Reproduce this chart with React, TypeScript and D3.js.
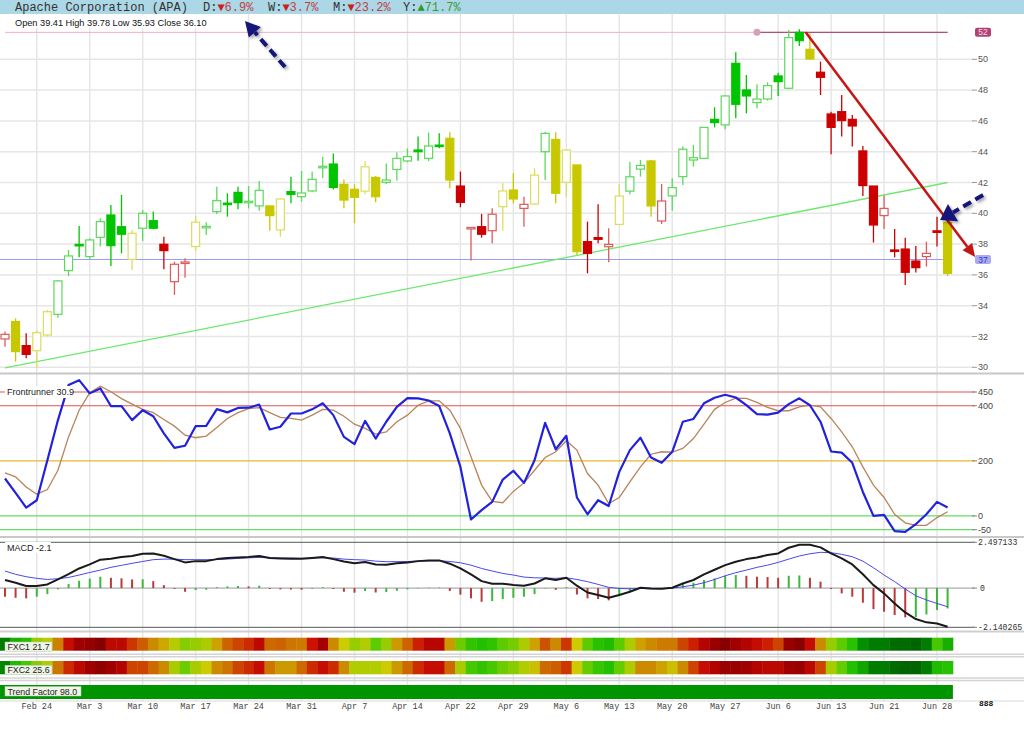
import React from "react";
import * as d3 from "d3";

// ---------- DATA ----------
const TITLE = "Apache Corporation (APA)";
const HEADER_CHANGES = [
  { label: "D:", up: false, value: "6.9%" },
  { label: "W:", up: false, value: "3.7%" },
  { label: "M:", up: false, value: "23.2%" },
  { label: "Y:", up: true, value: "71.7%" },
];

const OPEN = [31.84,32.97,31.41,31.08,32.10,33.44,36.28,37.98,37.19,38.44,39.89,39.13,37.01,39.03,39.52,37.99,35.56,36.80,37.84,39.10,40.11,40.66,41.36,40.74,40.48,40.48,38.92,41.41,41.08,41.45,43.00,43.20,41.88,41.56,41.44,42.33,42.01,42.85,43.40,44.11,43.57,44.43,44.87,41.77,39.05,39.13,38.87,40.43,41.51,40.32,40.60,44.00,44.80,42.01,43.14,38.16,38.42,37.83,39.28,41.44,42.87,43.40,39.50,41.13,42.38,43.46,43.57,46.10,45.74,49.74,48.01,47.19,47.42,48.92,48.12,51.75,50.65,49.16,46.45,46.60,46.10,44.05,41.77,39.85,37.62,37.68,36.90,37.19,38.86,39.41];
const HIGH = [32.32,33.18,32.21,32.40,33.72,35.67,37.62,39.18,38.38,39.68,40.54,41.19,38.92,40.22,40.11,38.48,36.86,37.08,39.83,39.42,41.73,41.30,41.73,41.77,42.10,40.48,40.97,42.38,42.75,42.71,43.68,43.89,42.20,41.88,43.39,42.42,43.24,43.96,44.22,44.98,45.24,45.19,45.26,42.71,39.10,39.96,40.33,41.95,42.60,41.08,42.92,45.30,45.26,44.15,43.14,39.46,40.58,39.03,41.90,43.35,43.46,43.46,41.90,42.27,44.33,44.44,45.58,46.88,47.68,50.45,48.98,48.38,48.51,49.13,51.90,51.95,51.69,49.85,46.60,47.68,46.39,44.37,41.77,41.15,38.98,38.42,37.88,38.16,39.78,39.78];
const LOW = [31.34,30.37,30.58,29.94,32.00,33.22,35.93,37.14,37.01,37.84,36.58,37.40,36.32,38.20,38.96,36.36,34.70,35.82,37.55,38.59,39.96,39.78,40.26,40.32,40.17,38.87,38.48,40.65,40.76,41.36,42.27,41.55,40.32,39.35,41.23,40.71,41.91,42.12,43.31,43.42,43.39,44.22,41.62,40.39,36.93,38.42,38.05,38.87,40.65,39.13,40.54,42.16,40.65,41.08,37.29,36.10,38.05,36.82,39.24,41.23,42.38,39.78,39.31,40.17,41.84,43.03,43.51,45.58,45.45,46.17,46.49,46.82,47.32,47.62,48.05,50.87,49.96,47.68,43.83,44.98,44.33,41.13,38.10,38.98,37.14,35.35,36.15,36.54,37.84,35.93];
const CLOSE = [32.14,31.02,30.84,32.25,33.61,35.61,37.23,37.90,38.27,39.46,37.90,38.64,38.70,40.00,39.03,37.58,36.69,36.84,39.42,39.15,40.82,40.60,40.69,40.78,41.49,39.85,40.93,41.23,41.32,42.21,43.05,41.68,40.86,41.04,43.02,41.08,42.16,43.57,43.68,44.00,44.37,44.39,42.16,40.71,39.08,38.64,39.94,41.45,40.93,40.58,42.48,45.19,41.30,44.11,37.51,37.40,38.31,37.98,41.12,42.37,43.11,40.48,40.80,41.67,44.16,43.61,45.58,45.89,47.62,47.08,47.62,47.42,48.29,48.55,51.41,51.21,50.02,48.83,45.58,46.02,45.67,41.80,39.24,40.32,37.55,36.17,36.47,37.40,38.78,36.10];
const CANDLE_TONE = ("ryryyggggg" + "ggyggrrryg" + "gggggyyggg" + "ggyyyygggg" + "ggyrrrryyr" + "ygyyyrrryg" + "gyrggggggg" + "ggggggyrrr" + "rrrrrrrrry").split("");

const FR_FAST = [136,84,30,57,202,348,475,493,445,463,399,399,348,384,362,300,247,255,326,327,388,376,392,393,404,314,324,372,372,387,409,366,287,261,345,281,342,396,428,427,419,399,300,178,-13,21,51,132,164,120,202,338,242,291,67,6,57,36,160,239,284,212,193,233,342,352,409,429,440,430,402,370,368,375,406,427,402,342,234,230,193,87,0,4,-55,-58,-30,6,51,30.9];
const FR_SLOW = [156,142,105,79,96,166,287,384,447,471,451,426,406,387,375,350,326,293,284,290,321,354,375,390,393,375,358,354,348,366,387,384,362,333,318,297,305,342,366,402,418,418,384,318,215,112,53,48,89,120,166,212,233,273,239,154,112,45,67,124,178,224,233,232,245,281,333,387,412,428,427,412,394,382,382,396,402,396,354,305,251,178,112,67,6,-25,-34,-34,-6,15];
const FR_LEVELS = [450, 400, 200, 0, -50];

const MACD_LINE = [0.44,0.29,0.11,0.11,0.2,0.47,0.76,1.07,1.29,1.55,1.6,1.69,1.75,1.87,1.89,1.76,1.58,1.4,1.47,1.47,1.58,1.64,1.67,1.69,1.75,1.64,1.62,1.6,1.6,1.64,1.69,1.58,1.45,1.36,1.42,1.29,1.27,1.36,1.4,1.47,1.51,1.51,1.33,1.07,0.75,0.38,0.24,0.24,0.17,0.13,0.25,0.53,0.44,0.56,0.13,-0.24,-0.38,-0.53,-0.38,-0.2,0.02,-0.02,-0.04,0.02,0.25,0.44,0.75,1.0,1.25,1.44,1.58,1.67,1.8,1.89,2.2,2.36,2.36,2.22,1.89,1.62,1.29,0.75,0.16,-0.29,-0.84,-1.33,-1.69,-1.87,-1.93,-2.11];
const MACD_SIGNAL = [0.93,0.75,0.62,0.53,0.47,0.51,0.58,0.71,0.85,0.98,1.13,1.24,1.35,1.45,1.55,1.58,1.58,1.55,1.55,1.55,1.56,1.58,1.62,1.65,1.67,1.65,1.64,1.64,1.62,1.64,1.65,1.64,1.58,1.55,1.53,1.47,1.44,1.44,1.45,1.47,1.49,1.49,1.45,1.38,1.25,1.07,0.93,0.8,0.71,0.6,0.56,0.55,0.53,0.56,0.47,0.35,0.2,0.04,-0.02,-0.04,-0.02,-0.04,-0.04,0,0.07,0.16,0.29,0.47,0.67,0.84,0.98,1.13,1.25,1.4,1.58,1.75,1.87,1.95,1.93,1.84,1.71,1.47,1.11,0.71,0.35,-0.05,-0.42,-0.65,-0.84,-1.02];
const MACD_HIST = [-0.47,-0.53,-0.56,-0.47,-0.33,-0.07,0.22,0.4,0.51,0.62,0.56,0.53,0.47,0.48,0.38,0.16,-0.05,-0.2,-0.11,-0.09,0.05,0.09,0.11,0.09,0.13,-0.05,-0.07,-0.08,-0.09,-0.04,0.05,-0.05,-0.2,-0.25,-0.16,-0.24,-0.22,-0.15,-0.07,-0.02,0.02,0.03,-0.16,-0.36,-0.56,-0.75,-0.71,-0.6,-0.53,-0.47,-0.33,-0.02,-0.1,0.05,-0.35,-0.56,-0.6,-0.67,-0.44,-0.2,0.0,0.01,0.0,0.02,0.22,0.29,0.44,0.53,0.67,0.71,0.67,0.62,0.6,0.56,0.67,0.69,0.56,0.35,-0.05,-0.29,-0.47,-0.8,-1.15,-1.29,-1.47,-1.6,-1.58,-1.44,-1.2,-1.11];
const MACD_LEVELS = [2.497133, 0, -2.140265];
const MACD_LEVEL_LABELS = ["2.497133", "0", "-2.140265"];

const FXC1 = [12,22,25,40,46,62,82,90,93,97,84,84,74,68,60,55,45,38,40,43,56,67,72,76,84,66,67,64,63,80,89,60,50,40,44,33,40,57,67,78,85,85,57,35,27,25,27,33,36,43,56,70,60,74,50,33,26,24,33,43,56,60,63,63,72,78,86,92,96,90,86,82,78,72,92,96,82,60,40,33,26,16,12,12,8,8,5,12,30,21.7];
const FXC2 = [14,24,30,38,44,64,76,84,90,94,90,86,72,72,66,60,42,35,42,50,60,64,72,76,82,64,57,57,66,76,82,76,60,44,44,44,50,57,66,76,82,82,66,42,30,27,30,35,38,44,52,66,68,74,50,34,28,25,34,43,60,60,56,52,60,72,82,86,92,92,90,86,84,84,90,92,84,72,42,34,25,20,12,12,8,5,5,12,24,25.6];
const TREND_FACTOR = 98.0;

const PRICE_TICKS = [30, 32, 34, 36, 38, 40, 42, 44, 46, 48, 50];
const DATE_LABELS = ["Feb 24","Mar 3","Mar 10","Mar 17","Mar 24","Mar 31","Apr 7","Apr 14","Apr 22","Apr 29","May 6","May 13","May 20","May 27","Jun 6","Jun 13","Jun 21","Jun 28"];
const DATE_INDEX = [3,8,13,18,23,28,33,38,43,48,53,58,63,68,73,78,83,88];

const LEVEL_HIGH = 51.75; const LEVEL_HIGH_LABEL = "52"; const LEVEL_HIGH_DOT = 71;
const LEVEL_LOW = 37.0; const LEVEL_LOW_LABEL = "37";
const TRENDLINE = [[0, 29.96], [89, 42.0]];
const RED_ARROW = [[75.6, 51.75], [91.6, 37.16]];
const BLUE_ARROW_1 = [[26.44, 49.5], [22.66, 52.49]];
const BLUE_ARROW_2 = [[92.35, 41.19], [88.29, 39.56]];

// ---------- LAYOUT ----------
const W = 1024, H = 735;
const N = CLOSE.length;
const x = d3.scaleLinear().domain([0, N - 1]).range([5, 947.6]);
const step = x(1) - x(0);
const yP = d3.scaleLinear().domain([30, 50]).range([367.3, 59.3]);
const yF = d3.scaleLinear().domain([-50, 450]).range([529.7, 392]);
const yM = d3.scaleLinear().domain([-2.140265, 2.497133]).range([627.3, 542.3]);
const fxcColor = d3.scaleLinear<string>()
  .domain([0, 8, 15, 25, 33, 42, 50, 57, 65, 72, 80, 88, 95, 100])
  .range(["#005a00","#006c00","#008a00","#22c000","#5ccc00","#a8cc00","#cccc00","#cc9a00","#cc7000","#cc4400","#cc1100","#aa0000","#8c0000","#7a0000"]);

const TONES: Record<string, { fill: string; hollow: string }> = {
  g: { fill: "#00c400", hollow: "#5cd85c" },
  r: { fill: "#cc0000", hollow: "#dd5a5a" },
  y: { fill: "#c8c800", hollow: "#dcdc60" },
};

const SANS = "Arial, 'Liberation Sans', sans-serif";
const MONO = "'Liberation Mono', 'Courier New', monospace";
const AXIS_X = 978;

function arrow(from: number[], to: number[], len: number, half: number) {
  const x1 = x(from[0]), y1 = yP(from[1]), x2 = x(to[0]), y2 = yP(to[1]);
  const a = Math.atan2(y2 - y1, x2 - x1);
  const bx = x2 - len * Math.cos(a), by = y2 - len * Math.sin(a);
  const px = -Math.sin(a) * half, py = Math.cos(a) * half;
  return { x1, y1, bx, by, head: `${x2},${y2} ${bx + px},${by + py} ${bx - px},${by - py}` };
}

export default function App() {
  const idx = d3.range(N);
  const frFast = d3.line<number>().x((_, i) => x(i)).y((d) => yF(d))(FR_FAST) || "";
  const frSlow = d3.line<number>().x((_, i) => x(i)).y((d) => yF(d))(FR_SLOW) || "";
  const mLine = d3.line<number>().x((_, i) => x(i)).y((d) => yM(d))(MACD_LINE) || "";
  const mSig = d3.line<number>().x((_, i) => x(i)).y((d) => yM(d))(MACD_SIGNAL) || "";
  const bw = 8;
  const last = N - 1;
  const ra = arrow(RED_ARROW[0], RED_ARROW[1], 13, 6);
  const b1 = arrow(BLUE_ARROW_1[0], BLUE_ARROW_1[1], 15, 8);
  const b2 = arrow(BLUE_ARROW_2[0], BLUE_ARROW_2[1], 15, 10);
  const headerX = [203, 268, 333, 403];
  const stripX0 = x(0) - step / 2;
  const stripX1 = x(last) + step / 2;

  return (
    <div style={{ position: "absolute", left: 0, top: 0 }}>
      <svg width={W} height={H} style={{ display: "block", background: "#fff" }}>
        <defs>
          <filter id="shadow" x="-20%" y="-20%" width="140%" height="140%">
            <feDropShadow dx="2" dy="2" stdDeviation="1.5" floodColor="#000" floodOpacity="0.35" />
          </filter>
        </defs>
        <rect x={0} y={0} width={W} height={H} fill="#fff" />

        {/* vertical grid */}
        {DATE_INDEX.map((d) => (
          <line key={"vg" + d} x1={x(d)} x2={x(d)} y1={14} y2={701} stroke="#e6e6e6" strokeWidth={1.5} />
        ))}
        {/* price horizontal grid */}
        {PRICE_TICKS.map((t) => (
          <g key={"pt" + t}>
            <line x1={0} x2={973} y1={yP(t)} y2={yP(t)} stroke="#e6e6e6" strokeWidth={1.5} />
            <line x1={972} x2={977} y1={yP(t)} y2={yP(t)} stroke="#999" />
            <text x={AXIS_X} y={yP(t) + 3} fontSize={9} fontFamily={SANS} fill="#555">{t}</text>
          </g>
        ))}

        {/* header */}
        <rect x={0} y={0} width={W} height={14} fill="#acd7e6" />
        <text x={15} y={11} fontSize={12} fontFamily={MONO} fill="#333">{TITLE}</text>
        {HEADER_CHANGES.map((h, k) => (
          <text key={h.label} x={headerX[k]} y={11} fontSize={12} fontFamily={MONO} fill="#333">
            {h.label}
            <tspan fill={h.up ? "#2f9a2f" : "#cc2020"}>{h.up ? "▲" : "▼"}</tspan>
            <tspan fill={h.up ? "#3a9a3a" : "#c04040"}>{h.value}</tspan>
          </text>
        ))}
        <rect x={5} y={15} width={205} height={13} fill="#fff" />
        <text x={15} y={26} fontSize={9.2} fontFamily={SANS} fill="#111">
          {`Open ${OPEN[last].toFixed(2)}  High ${HIGH[last].toFixed(2)}  Low ${LOW[last].toFixed(2)}  Close ${CLOSE[last].toFixed(2)}`}
        </text>

        {/* level lines */}
        <line x1={x(0)} x2={x(last)} y1={yP(LEVEL_HIGH)} y2={yP(LEVEL_HIGH)} stroke="#f0b0c6" strokeWidth={1} />
        <line x1={x(LEVEL_HIGH_DOT)} x2={x(last)} y1={yP(LEVEL_HIGH)} y2={yP(LEVEL_HIGH)} stroke="#b0507a" strokeWidth={1.2} />
        <circle cx={x(LEVEL_HIGH_DOT)} cy={yP(LEVEL_HIGH)} r={3.5} fill="#d8a0b8" />
        <line x1={0} x2={x(last)} y1={yP(LEVEL_LOW)} y2={yP(LEVEL_LOW)} stroke="#9c9cf2" strokeWidth={1.2} />
        <rect x={975} y={yP(LEVEL_HIGH) - 4.5} width={16} height={9} rx={2} fill="#b04272" />
        <text x={983} y={yP(LEVEL_HIGH) + 3} fontSize={8.5} fontFamily={SANS} fill="#f8d8e8" textAnchor="middle">{LEVEL_HIGH_LABEL}</text>
        <rect x={975} y={yP(LEVEL_LOW) - 4.5} width={16} height={9} rx={2} fill="#aaaaf2" />
        <text x={983} y={yP(LEVEL_LOW) + 3} fontSize={8.5} fontFamily={SANS} fill="#3838c0" textAnchor="middle">{LEVEL_LOW_LABEL}</text>

        {/* trendline */}
        <line x1={x(TRENDLINE[0][0])} y1={yP(TRENDLINE[0][1])} x2={x(TRENDLINE[1][0])} y2={yP(TRENDLINE[1][1])} stroke="#6ee86e" strokeWidth={1.3} />

        {/* candles */}
        {idx.map((i) => {
          const o = OPEN[i], c = CLOSE[i];
          const tone = TONES[CANDLE_TONE[i]];
          const filled = c < o;
          const col = filled ? tone.fill : tone.hollow;
          const top = yP(Math.max(o, c));
          const h = Math.max(1.5, Math.abs(yP(o) - yP(c)));
          return (
            <g key={"c" + i}>
              <line x1={x(i)} x2={x(i)} y1={yP(HIGH[i])} y2={yP(LOW[i])} stroke={col} strokeWidth={1.3} />
              <rect x={x(i) - bw / 2} y={top} width={bw} height={h} fill={filled ? tone.fill : "#fff"} stroke={col} strokeWidth={1.2} />
            </g>
          );
        })}

        {/* red arrow */}
        <line x1={ra.x1} y1={ra.y1} x2={ra.bx} y2={ra.by} stroke="#c41414" strokeWidth={2.5} />
        <polygon points={ra.head} fill="#c41414" />
        {/* blue dashed arrows */}
        <g filter="url(#shadow)">
          <line x1={b1.x1} y1={b1.y1} x2={b1.bx} y2={b1.by} stroke="#16167a" strokeWidth={4} strokeDasharray="9 5" />
          <polygon points={b1.head} fill="#16167a" />
          <line x1={b2.x1} y1={b2.y1} x2={b2.bx} y2={b2.by} stroke="#16167a" strokeWidth={4} strokeDasharray="9 5" />
          <polygon points={b2.head} fill="#16167a" />
        </g>

        {/* separators */}
        <line x1={0} x2={W} y1={373.5} y2={373.5} stroke="#c8c8c8" strokeWidth={2} />
        <line x1={0} x2={W} y1={537} y2={537} stroke="#c8c8c8" strokeWidth={2} />

        {/* Frontrunner panel */}
        {FR_LEVELS.map((l) => (
          <g key={"fl" + l}>
            <line x1={0} x2={975} y1={yF(l)} y2={yF(l)}
              stroke={l >= 400 ? "#e05555" : l === 200 ? "#e8b830" : "#66dd66"} strokeWidth={1.2} />
            <line x1={972} x2={977} y1={yF(l)} y2={yF(l)} stroke="#888" />
            <text x={AXIS_X} y={yF(l) + 3} fontSize={9} fontFamily={SANS} fill="#444">{l}</text>
          </g>
        ))}
        <path d={frSlow} fill="none" stroke="#b8845c" strokeWidth={1.3} />
        <path d={frFast} fill="none" stroke="#2222dd" strokeWidth={2.2} strokeLinejoin="round" />
        <rect x={5} y={386} width={68} height={12} fill="#fff" />
        <text x={7} y={395} fontSize={9} fontFamily={SANS} fill="#222">{`Frontrunner ${FR_FAST[last].toFixed(1)}`}</text>

        {/* MACD panel */}
        {MACD_LEVELS.map((l, k) => (
          <g key={"ml" + k}>
            <line x1={0} x2={975} y1={yM(l)} y2={yM(l)} stroke={l === 0 ? "#999" : "#555"} strokeWidth={1} />
            <line x1={972} x2={977} y1={yM(l)} y2={yM(l)} stroke="#888" />
            <text x={AXIS_X + (l === 0 ? 2 : 0)} y={yM(l) + 3} fontSize={8.2} fontFamily={MONO} fill="#333">{MACD_LEVEL_LABELS[k]}</text>
          </g>
        ))}
        {idx.map((i) => {
          const v = MACD_HIST[i];
          const up = i > 0 && v > MACD_HIST[i - 1];
          return (
            <line key={"h" + i} x1={x(i)} x2={x(i)} y1={yM(0)} y2={yM(v)} stroke={up ? "#3cb83c" : "#b83a3a"} strokeWidth={2} />
          );
        })}
        <path d={mSig} fill="none" stroke="#4848ee" strokeWidth={1} />
        <path d={mLine} fill="none" stroke="#1a1a1a" strokeWidth={2} strokeLinejoin="round" />
        <rect x={5} y={542} width={46} height={11} fill="#fff" />
        <text x={7} y={551} fontSize={9} fontFamily={SANS} fill="#222">{`MACD ${MACD_LINE[last].toFixed(1)}`}</text>

        {/* strips */}
        <line x1={0} x2={W} y1={631.5} y2={631.5} stroke="#cfcfcf" strokeWidth={2} />
        <line x1={0} x2={W} y1={654.3} y2={654.3} stroke="#d4d4d4" strokeWidth={1.5} />
        <line x1={0} x2={W} y1={656.8} y2={656.8} stroke="#d4d4d4" strokeWidth={1.5} />
        <line x1={0} x2={W} y1={678} y2={678} stroke="#d4d4d4" strokeWidth={1.5} />
        <line x1={0} x2={W} y1={680.5} y2={680.5} stroke="#d4d4d4" strokeWidth={1.5} />
        <line x1={0} x2={W} y1={701} y2={701} stroke="#d8d8d8" strokeWidth={1} />
        {idx.map((i) => (
          <g key={"s" + i}>
            <rect x={x(i) - step / 2} y={637.7} width={step + 0.4} height={13} fill={fxcColor(FXC1[i])} />
            <rect x={x(i) - step / 2} y={661} width={step + 0.4} height={13.3} fill={fxcColor(FXC2[i])} />
          </g>
        ))}
        <rect x={stripX0} y={685} width={stripX1 - stripX0} height={14} fill="#009400" />
        {[
          { y: 642, t: `FXC1 ${FXC1[last].toFixed(1)}`, w: 47 },
          { y: 665.3, t: `FXC2 ${FXC2[last].toFixed(1)}`, w: 47 },
          { y: 686.5, t: `Trend Factor ${TREND_FACTOR.toFixed(1)}`, w: 76 },
        ].map((b) => (
          <g key={b.t}>
            <rect x={5} y={b.y} width={b.w} height={9.5} fill="#eef4e6" stroke="#b8c8b0" strokeWidth={0.5} />
            <text x={7.5} y={b.y + 8} fontSize={8.8} fontFamily={SANS} fill="#222">{b.t}</text>
          </g>
        ))}

        {/* x axis */}
        {DATE_LABELS.map((d, k) => (
          <text key={d} x={x(DATE_INDEX[k])} y={709} fontSize={8.5} fontFamily={MONO} fill="#444" textAnchor="middle">{d}</text>
        ))}
        <text x={979} y={706} fontSize={8} fontWeight="bold" fontFamily={MONO} fill="#111">888</text>
      </svg>
    </div>
  );
}
